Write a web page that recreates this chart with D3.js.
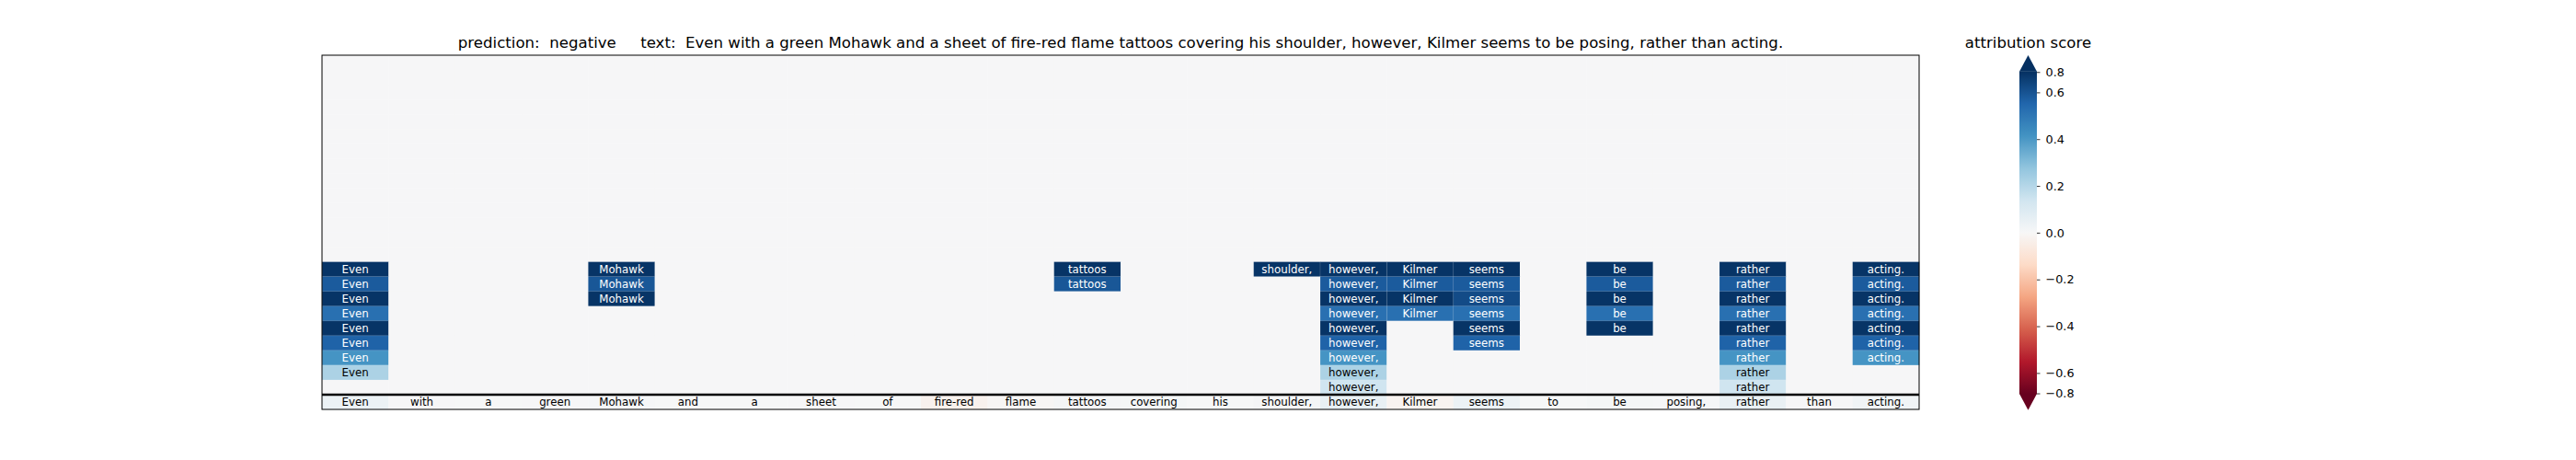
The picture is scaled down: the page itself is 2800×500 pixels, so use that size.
<!DOCTYPE html>
<html><head><meta charset="utf-8">
<script src="https://cdn.jsdelivr.net/npm/d3@7"></script>
<style>
body{margin:0;background:#fff}
svg{display:block}
text{font-family:"DejaVu Sans",sans-serif}
</style>
</head><body>
<svg id="chart" width="2800" height="500"></svg>
<script>
// ---------------- data ----------------
const tokens = ["Even","with","a","green","Mohawk","and","a","sheet","of","fire-red","flame","tattoos","covering","his","shoulder,","however,","Kilmer","seems","to","be","posing,","rather","than","acting."];
const predictionLabel = "negative";
const blankRowCount = 14;          // rows with no highlighted token
const blankValue = 0.004;          // near-zero score of the empty cells
const _ = null;
// highlighted rows (token scores; null = not highlighted)
const row14 = [0.68,_,_,_,0.68,_,_,_,_,_,_,0.68,_,_,0.68,0.68,0.68,0.68,_,0.68,_,0.68,_,0.68];
const row15 = [0.58,_,_,_,0.59,_,_,_,_,_,_,0.59,_,_,_,0.58,0.58,0.58,_,0.58,_,0.58,_,0.58];
const row16 = [0.68,_,_,_,0.68,_,_,_,_,_,_,_,_,_,_,0.68,0.68,0.62,_,0.68,_,0.68,_,0.68];
const row17 = [0.52,_,_,_,_,_,_,_,_,_,_,_,_,_,_,0.52,0.52,0.52,_,0.52,_,0.52,_,0.52];
const row18 = [0.68,_,_,_,_,_,_,_,_,_,_,_,_,_,_,0.68,_,0.68,_,0.68,_,0.68,_,0.68];
const row19 = [0.56,_,_,_,_,_,_,_,_,_,_,_,_,_,_,0.56,_,0.56,_,_,_,0.56,_,0.56];
const row20 = [0.41,_,_,_,_,_,_,_,_,_,_,_,_,_,_,0.41,_,_,_,_,_,0.41,_,0.41];
const row21 = [0.22,_,_,_,_,_,_,_,_,_,_,_,_,_,_,0.22,_,_,_,_,_,0.22,_,_];
const row22 = [_,_,_,_,_,_,_,_,_,_,_,_,_,_,_,0.14,_,_,_,_,_,0.14,_,_];
// overall token attribution (bottom row)
const tokenScores = [0.04,0.005,0.003,0.004,0.006,0.002,0.003,0.004,0.003,-0.03,-0.008,0.012,0.01,0.003,0.012,0.055,-0.02,0.04,0.003,0.01,0.006,0.05,0.004,0.025];
// colour bar
const vmax = 0.69;
const cbarTickValues = [-0.687,-0.6,-0.4,-0.2,0,0.2,0.4,0.6,0.687];
const cbarTickLabels = ["\u22120.8","\u22120.6","\u22120.4","\u22120.2","0.0","0.2","0.4","0.6","0.8"];
const rdbuColors = ["#67001f","#b2182b","#d6604d","#f4a582","#fddbc7","#f7f7f7","#d1e5f0","#92c5de","#4393c3","#2166ac","#053061"];

// ---------------- build ----------------
const highlightRows = [row14,row15,row16,row17,row18,row19,row20,row21,row22];
const nRows = blankRowCount + highlightRows.length + 1;
const cells = [];
for (let r = 0; r < blankRowCount; r++)
  tokens.forEach((t,c)=>cells.push({r,c,v:blankValue,label:null}));
highlightRows.forEach((row,i)=>{
  const r = blankRowCount + i;
  row.forEach((v,c)=>cells.push({r,c,v:v==null?blankValue:v,label:v==null?null:tokens[c]}));
});
tokens.forEach((t,c)=>cells.push({r:nRows-1,c,v:tokenScores[c],label:t,bottom:true}));

const svg = d3.select("#chart");
const L = 350, R = 2086, T = 60, B = 445;
const x = d3.scaleBand().domain(d3.range(tokens.length)).range([L,R]);
const y = d3.scaleBand().domain(d3.range(nRows)).range([T,B]);
const color = d3.scaleLinear()
  .domain(d3.range(11).map(i=>-vmax + i*(2*vmax)/10))
  .range(rdbuColors).clamp(true);

svg.append("g").selectAll("rect").data(cells).join("rect")
  .attr("x",d=>x(d.c)).attr("y",d=>y(d.r))
  .attr("width",x.bandwidth()+0.3).attr("height",y.bandwidth()+0.3)
  .attr("fill",d=>color(d.v))
  .attr("stroke",d=>d.label && !d.bottom ? "rgba(255,255,255,0.18)" : "none")
  .attr("stroke-width",0.8);

svg.append("g").selectAll("text").data(cells.filter(d=>d.label)).join("text")
  .attr("x",d=>x(d.c)+x.bandwidth()/2)
  .attr("y",d=>y(d.r)+y.bandwidth()/2)
  .attr("text-anchor","middle").attr("dominant-baseline","central")
  .attr("font-size","11.8px")
  .attr("fill",d=>(!d.bottom && Math.abs(d.v)>0.3) ? "#ffffff" : "#000000")
  .text(d=>d.label);

// separator line above bottom row
svg.append("line").attr("x1",L).attr("x2",R)
  .attr("y1",y(nRows-1)).attr("y2",y(nRows-1))
  .attr("stroke","#000").attr("stroke-width",2.5);
// frame
svg.append("rect").attr("x",L).attr("y",T).attr("width",R-L).attr("height",B-T)
  .attr("fill","none").attr("stroke","#000").attr("stroke-width",1);

// title
svg.append("text").attr("x",(L+R)/2).attr("y",51.7).attr("text-anchor","middle")
  .attr("font-size","16.6px").attr("xml:space","preserve")
  .text("prediction:  " + predictionLabel + "     text:  " + tokens.join(" "));

// ---------------- colour bar ----------------
const cbX = 2195, cbW = 19, cbTop = 77.5, cbBot = 428.3, tip = 17.5;
const cy = d3.scaleLinear().domain([-vmax,vmax]).range([cbBot,cbTop]);
const defs = svg.append("defs");
const grad = defs.append("linearGradient").attr("id","cbgrad")
  .attr("x1",0).attr("y1",1).attr("x2",0).attr("y2",0);
d3.range(0,1.0001,0.02).forEach(f=>{
  grad.append("stop").attr("offset",f).attr("stop-color",color(-vmax+f*2*vmax));
});
svg.append("rect").attr("x",cbX).attr("y",cbTop).attr("width",cbW).attr("height",cbBot-cbTop)
  .attr("fill","url(#cbgrad)");
svg.append("path").attr("d",`M${cbX},${cbTop+0.3}L${cbX+cbW},${cbTop+0.3}L${cbX+cbW/2},${cbTop-tip}Z`)
  .attr("fill",color(vmax));
svg.append("path").attr("d",`M${cbX},${cbBot-0.3}L${cbX+cbW},${cbBot-0.3}L${cbX+cbW/2},${cbBot+tip}Z`)
  .attr("fill",color(-vmax));
const axis = d3.axisRight(cy).tickValues(cbarTickValues)
  .tickFormat((d,i)=>cbarTickLabels[i]).tickSize(3.5).tickPadding(6);
const ag = svg.append("g").attr("transform",`translate(${cbX+cbW},0)`).call(axis);
ag.select(".domain").remove();
ag.selectAll("text").attr("font-size","12.8px").attr("font-family","DejaVu Sans").attr("fill","#000");
ag.selectAll("line").attr("stroke","#000").attr("stroke-width",0.8);
svg.append("text").attr("x",cbX+cbW/2).attr("y",51.7).attr("text-anchor","middle")
  .attr("font-size","16.6px").text("attribution score");
</script>
</body></html>
